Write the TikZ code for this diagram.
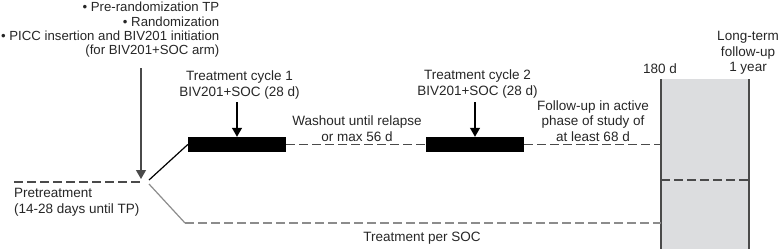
\documentclass[tikz,border=0pt]{standalone}
\usepackage{fontspec}
\setmainfont{Liberation Sans}
\usetikzlibrary{arrows.meta,positioning}
\definecolor{txtgray}{HTML}{262626}
\definecolor{linedark}{HTML}{4A4A4A}
\definecolor{linemid}{HTML}{8C8C8C}
\definecolor{boxgray}{HTML}{DCDDDF}
\tikzset{
  lbl/.style={font=\fontsize{13.5}{15.5}\selectfont, text=txtgray, inner sep=0pt, align=center},
  barbox/.style={fill=black, minimum width=98pt, minimum height=15pt, inner sep=0pt},
  phase/.style={dash pattern=on 8.5pt off 4.5pt, line width=1.5pt},
  ptr/.style={-{Triangle[width=10pt,length=9pt]}, line width=1.2pt},
}

\begin{document}
\begin{tikzpicture}[x=1pt,y=-1pt]
\useasboundingbox (0,0) rectangle (778,249);
\coordinate (D180) at (661,79);
\coordinate (Y1) at (749,79);
\coordinate (D180b) at (661,249);
\coordinate (Y1b) at (749,249);
\coordinate (pre) at (14,182);
\coordinate (preend) at (140,182);
\coordinate (TPup) at (149,180);
\coordinate (TPlow) at (149,184);
\coordinate (socstart) at (185,223);
\coordinate (rand) at (141,68);
\coordinate (randtip) at (141,179);
% follow-up window
\fill[boxgray] (D180) rectangle (Y1b);
\draw[line width=1.4pt,linedark] (D180) -- (D180b);
\draw[line width=1.4pt,linedark] (Y1) -- (Y1b);
\draw[phase,linedark] (D180 |- 0,180) -- (Y1 |- 0,180);
% treatment cycles
\node[barbox] (bar1) at (237,144.5) {};
\node[barbox] (bar2) at (475,144.5) {};
\draw[phase,linedark] (pre) -- (preend);
\draw[line width=1.2pt] (TPup) -- (bar1.west);
\draw[line width=1.2pt,linemid] (TPlow) -- (socstart);
\draw[phase,linedark] (bar1.east) -- (bar2.west);
\draw[phase,linedark] (bar2.east) -- (bar2.east -| D180);
\draw[phase,linemid] (socstart) -- (socstart -| D180);
% labels
\node[lbl, align=right, anchor=east, font=\fontsize{13.2}{14.3}\selectfont] (steps) at (219.5,30)
  {• Pre-randomization TP\\• Randomization\\• PICC insertion and BIV201 initiation\\(for BIV201+SOC arm)};
\node[lbl] (cyc1) at (239.5,85) {Treatment cycle 1\\BIV201+SOC (28 d)};
\node[lbl] (cyc2) at (477.5,84) {Treatment cycle 2\\BIV201+SOC (28 d)};
\node[lbl] (wash) at (357,128.5) {Washout until relapse\\or max 56 d};
\node[lbl] (fup) at (593,121) {Follow-up in active\\phase of study of\\at least 68 d};
\node[lbl, align=left, anchor=west] (pretx) at (14,202.5) {Pretreatment\\(14-28 days until TP)};
\node[lbl] (soc) at (422,238) {Treatment per SOC};
\node[lbl] (d180) at (660,69) {180 d};
\node[lbl] (ltfu) at (748,53) {Long-term\\follow-up\\1 year};
% arrows
\draw[ptr,linedark] (rand) -- (randtip);
\draw[ptr,black] (bar1.north |- 0,102) -- (bar1.north);
\draw[ptr,black] (bar2.north |- 0,102) -- (bar2.north);
\end{tikzpicture}
\end{document}
